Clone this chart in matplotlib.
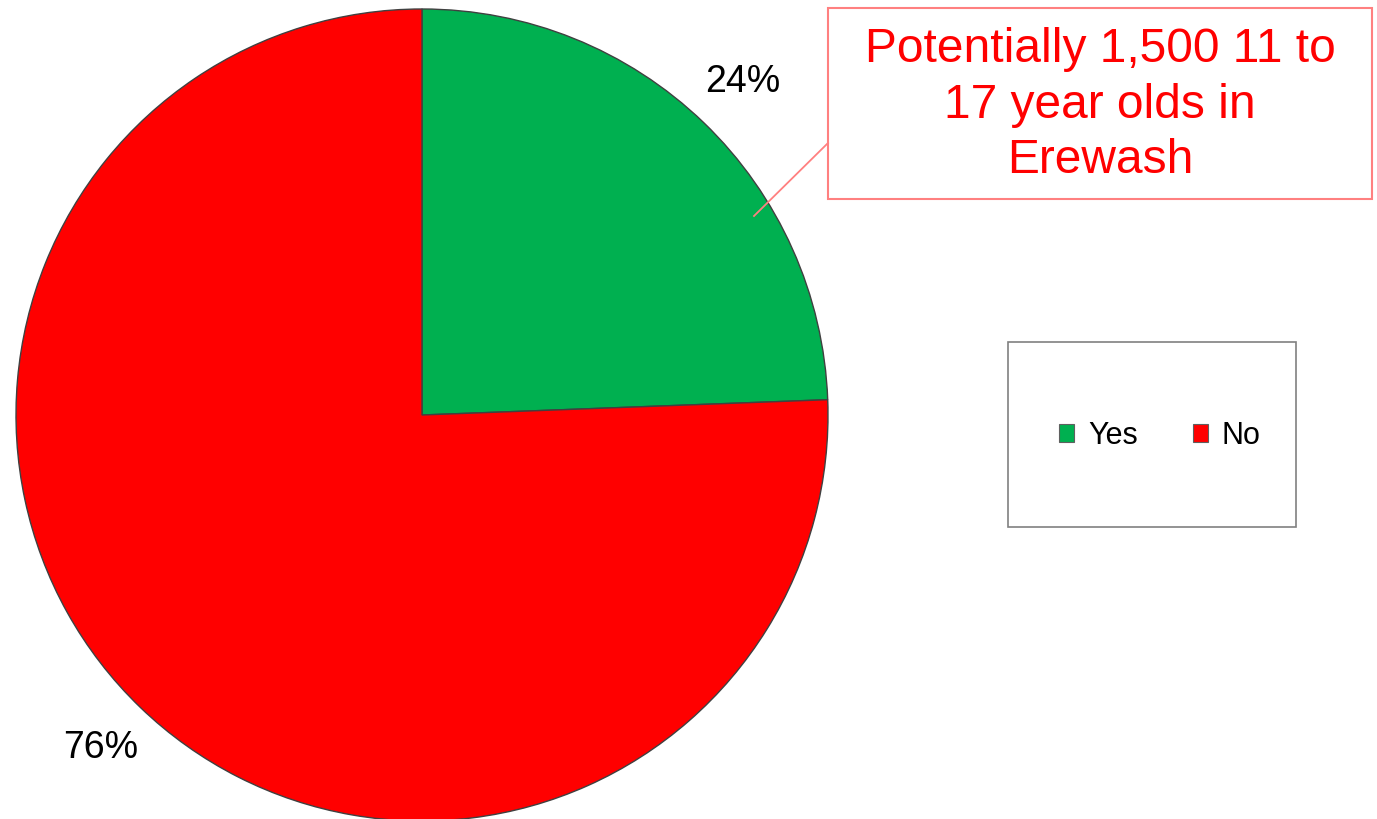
import matplotlib
matplotlib.use("Agg")
from matplotlib import pyplot as plt
from matplotlib.patches import Rectangle, Patch

plt.rcParams['font.family'] = ['Liberation Sans', 'DejaVu Sans']

# данные
labels = ["Yes", "No"]
values = [24.4, 75.6]
colors = ["#00b050", "#ff0000"]
note = "Potentially 1,500 11 to\n17 year olds in\nErewash"

W, H = 1377, 819
fig = plt.figure(figsize=(W / 100, H / 100), dpi=100)
ax = fig.add_axes([0, 0, 1, 1])

# круговая диаграмма
wedges, texts, autotexts = ax.pie(
    values, colors=colors, startangle=90, counterclock=False,
    center=(422, H - 415), radius=406, autopct='%1.0f%%', pctdistance=1.14,
    wedgeprops=dict(edgecolor='#404040', linewidth=1.0),
    textprops=dict(fontsize=27, color='black'), frame=True)
ax.set_xlim(0, W)
ax.set_ylim(0, H)
ax.set_aspect('equal')
ax.axis('off')

# выноска
ax.add_patch(Rectangle((828, H - 199), 544, 191, facecolor='white',
                       edgecolor='#ff8080', linewidth=1.5, zorder=5))
ax.plot([828, 754], [H - 143, H - 216], color='#ff8080', linewidth=1.3, zorder=5)
ax.text(1100, H - 105, note, ha='center', va='center', fontsize=34.5,
        color='#ff0000', linespacing=1.3, zorder=6)

# легенда
ax.add_patch(Rectangle((1008, H - 527), 288, 185, facecolor='white',
                       edgecolor='#808080', linewidth=1.2, zorder=5))
handles = [Patch(facecolor=c, edgecolor='#606060', linewidth=0.8) for c in colors]
leg = ax.legend(handles, labels, ncol=2, frameon=False, fontsize=22,
                loc='center', bbox_to_anchor=(1160 / W, (H - 436) / H),
                bbox_transform=fig.transFigure, handlelength=0.5,
                handleheight=0.5, handletextpad=0.45, columnspacing=1.8)
leg.set_zorder(7)

fig.savefig("out.png", dpi=100)
